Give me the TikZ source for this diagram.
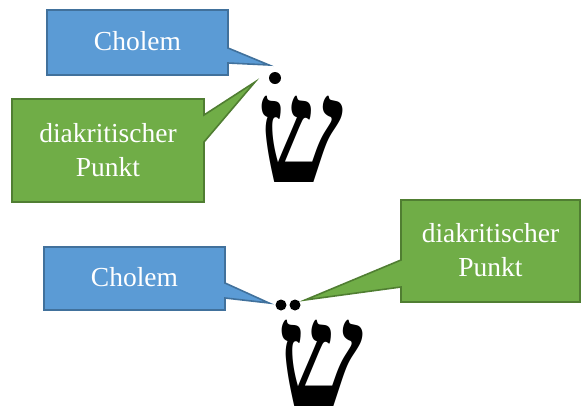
\documentclass[tikz,border=0pt]{standalone}
\usepackage{fontspec}
\setmainfont{Liberation Serif}
\newfontfamily\hebfont[Script=Hebrew]{Liberation Serif}
\definecolor{cblue}{HTML}{5B9BD5}
\definecolor{cbluedark}{HTML}{41719C}
\definecolor{cgreen}{HTML}{70AD47}
\definecolor{cgreendark}{HTML}{507E32}
\begin{document}
\begin{tikzpicture}[x=1pt,y=-1pt,
  bluecall/.style={fill=cblue,draw=cbluedark,line width=1.6pt,line join=miter},
  greencall/.style={fill=cgreen,draw=cgreendark,line width=1.6pt,line join=miter},
  lbl/.style={text=white,font=\fontsize{27.5}{34}\selectfont,align=center,inner sep=0pt},
  letter/.style={font=\hebfont\bfseries\fontsize{147}{147}\selectfont,inner sep=0pt,anchor=base},
  dotmark/.style={fill=black,draw=none}]
\useasboundingbox (0,0) rectangle (582,405);
\begin{scope}
\clip (0,0) rectangle (582,405);
% top letter
\node[letter] (shinA) at (300.5,182) {\scalebox{0.83}[1]{ש}};
\fill[dotmark] (275,78) circle (6);
% bottom letter
\node[letter] (shinB) at (321,406) {\scalebox{0.83}[1]{ש}};
\fill[dotmark] (281,305) circle (5.5);
\fill[dotmark] (295,305) circle (5.5);
\end{scope}
% top blue callout
\coordinate (tA) at (269,65);
\draw[bluecall] (47,10) -- (228,10) -- (228,48) -- (tA) -- (228,63) -- (228,75) -- (47,75) -- cycle;
\node[lbl] (cholA) at (137.5,41) {Cholem};
% top green callout
\coordinate (tB) at (255,82);
\draw[greencall] (12,99) -- (204,99) -- (204,115) -- (tB) -- (204,142) -- (204,202) -- (12,202) -- cycle;
\node[lbl] (diakA) at (108,150) {diakritischer\\Punkt};
% bottom blue callout
\coordinate (tC) at (269,303);
\draw[bluecall] (44,247) -- (225,247) -- (225,283) -- (tC) -- (225,298) -- (225,310) -- (44,310) -- cycle;
\node[lbl] (cholB) at (134.5,277) {Cholem};
% bottom green callout
\coordinate (tD) at (305,300);
\draw[greencall] (401,200) -- (580,200) -- (580,302) -- (401,302) -- (401,287) -- (tD) -- (401,260) -- cycle;
\node[lbl] (diakB) at (490.5,250) {diakritischer\\Punkt};
\end{tikzpicture}
\end{document}
